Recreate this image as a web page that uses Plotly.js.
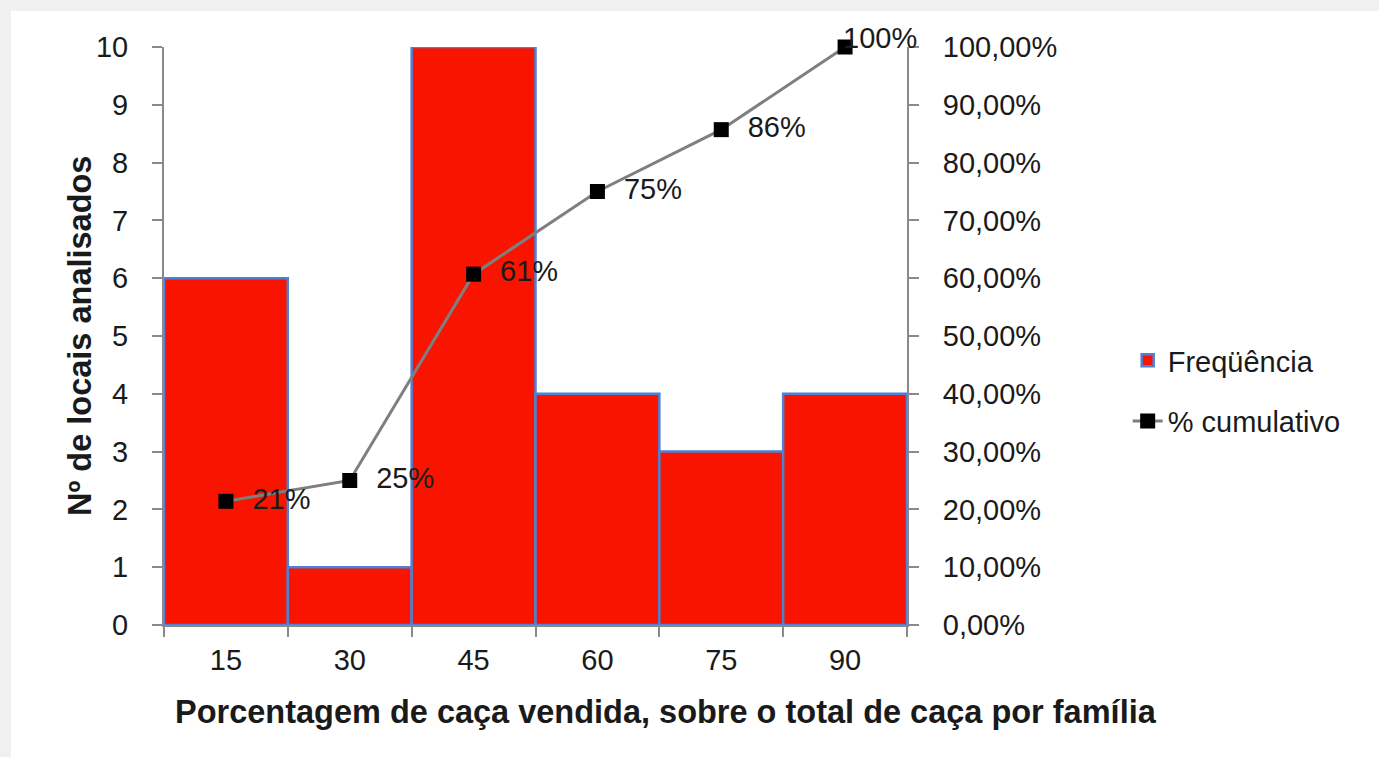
<!DOCTYPE html>
<html>
<head>
<meta charset="utf-8">
<script src="https://cdn.plot.ly/plotly-3.0.1.min.js"></script>
<style>
  html, body { margin: 0; padding: 0; background: #f0f0f0; width: 1379px; height: 757px; overflow: hidden; }
  #chart { position: absolute; left: 11px; top: 11px; width: 1368px; height: 746px; background: #ffffff; }
</style>
</head>
<body>
<div id="chart"></div>
<script>
// Data
const categories = ["15", "30", "45", "60", "75", "90"];
const frequencia = [6, 1, 10, 4, 3, 4];
const cumulativo = [0.214, 0.25, 0.607, 0.75, 0.857, 1.0];
const seriesNames = ["Freqüência", "% cumulativo"];
const xTitle = "Porcentagem de caça vendida, sobre o total de caça por família";
const yTitle = "Nº de locais analisados";

const FONT = "Liberation Sans, Arial, sans-serif";
const AXIS_GRAY = "#8a8a8a";
const TXT = "#1a1a1a";
const TICK_SIZE = 29;
const TITLE_SIZE = 32.5;

const last = cumulativo.length - 1;
const pctLabel = v => Math.round(v * 100) + "%";

const traces = [
  {
    type: "bar",
    name: seriesNames[0],
    x: categories,
    y: frequencia,
    marker: { color: "#f91400", line: { color: "#5080d2", width: 2.5 } },
    legendgroup: "a",
    hoverinfo: "x+y"
  },
  {
    type: "scatter",
    mode: "lines+markers+text",
    name: seriesNames[1],
    x: categories,
    y: cumulativo,
    yaxis: "y2",
    line: { color: "#7f7f7f", width: 3 },
    marker: { symbol: "square", size: 15, color: "#000000" },
    text: cumulativo.map((v, i) => i < last ? "\u00a0\u00a0" + pctLabel(v) : ""),
    textposition: "middle right",
    textfont: { family: FONT, size: TICK_SIZE, color: TXT },
    cliponaxis: false,
    legendgroup: "b"
  }
];

const layout = {
  width: 1368,
  height: 746,
  paper_bgcolor: "#ffffff",
  plot_bgcolor: "#ffffff",
  font: { family: FONT, size: TICK_SIZE, color: TXT },
  margin: { l: 153, r: 472, t: 36, b: 132 },
  bargap: 0,
  showlegend: true,
  legend: {
    x: 1.297, xanchor: "left",
    y: 0.405, yanchor: "middle",
    font: { family: FONT, size: TICK_SIZE, color: TXT },
    traceorder: "grouped",
    tracegroupgap: 20,
    bgcolor: "rgba(0,0,0,0)"
  },
  xaxis: {
    type: "category",
    range: [-0.5, categories.length - 0.5],
    tickson: "boundaries",
    ticks: "outside",
    ticklen: 10,
    tickwidth: 2,
    tickcolor: AXIS_GRAY,
    showline: true,
    linecolor: AXIS_GRAY,
    linewidth: 2,
    showgrid: false,
    tickangle: 0,
    tickfont: { family: FONT, size: TICK_SIZE, color: TXT },
    ticklabelstandoff: 8
  },
  yaxis: {
    range: [0, 10],
    dtick: 1,
    ticks: "outside",
    ticklen: 10,
    tickwidth: 2,
    tickcolor: AXIS_GRAY,
    showline: true,
    linecolor: AXIS_GRAY,
    linewidth: 2,
    showgrid: false,
    zeroline: false,
    tickfont: { family: FONT, size: TICK_SIZE, color: TXT },
    ticklabelstandoff: 18
  },
  yaxis2: {
    overlaying: "y",
    side: "right",
    range: [0, 1],
    dtick: 0.1,
    tickformat: ".2%",
    ticks: "outside",
    ticklen: 10,
    tickwidth: 2,
    tickcolor: AXIS_GRAY,
    showline: true,
    linecolor: AXIS_GRAY,
    linewidth: 2,
    showgrid: false,
    zeroline: false,
    tickfont: { family: FONT, size: TICK_SIZE, color: TXT },
    ticklabelstandoff: 18
  },
  separators: ",.",
  annotations: [
    {
      text: pctLabel(cumulativo[last]),
      xref: "x", yref: "y2",
      x: last, y: cumulativo[last],
      xanchor: "left", yanchor: "middle",
      xshift: -4, yshift: 9,
      showarrow: false,
      font: { family: FONT, size: TICK_SIZE, color: TXT }
    },
    {
      text: "<b>" + xTitle + "</b>",
      xref: "paper", yref: "paper",
      x: 0.676, y: -0.15,
      xanchor: "center", yanchor: "middle",
      showarrow: false,
      font: { family: FONT, size: TITLE_SIZE, color: TXT }
    },
    {
      text: "<b>" + yTitle + "</b>",
      xref: "paper", yref: "paper",
      x: -0.113, y: 0.5,
      xanchor: "center", yanchor: "middle",
      textangle: -90,
      showarrow: false,
      font: { family: FONT, size: TITLE_SIZE, color: TXT }
    }
  ]
};

Plotly.newPlot("chart", traces, layout, { displayModeBar: false, staticPlot: true });
</script>
</body>
</html>
